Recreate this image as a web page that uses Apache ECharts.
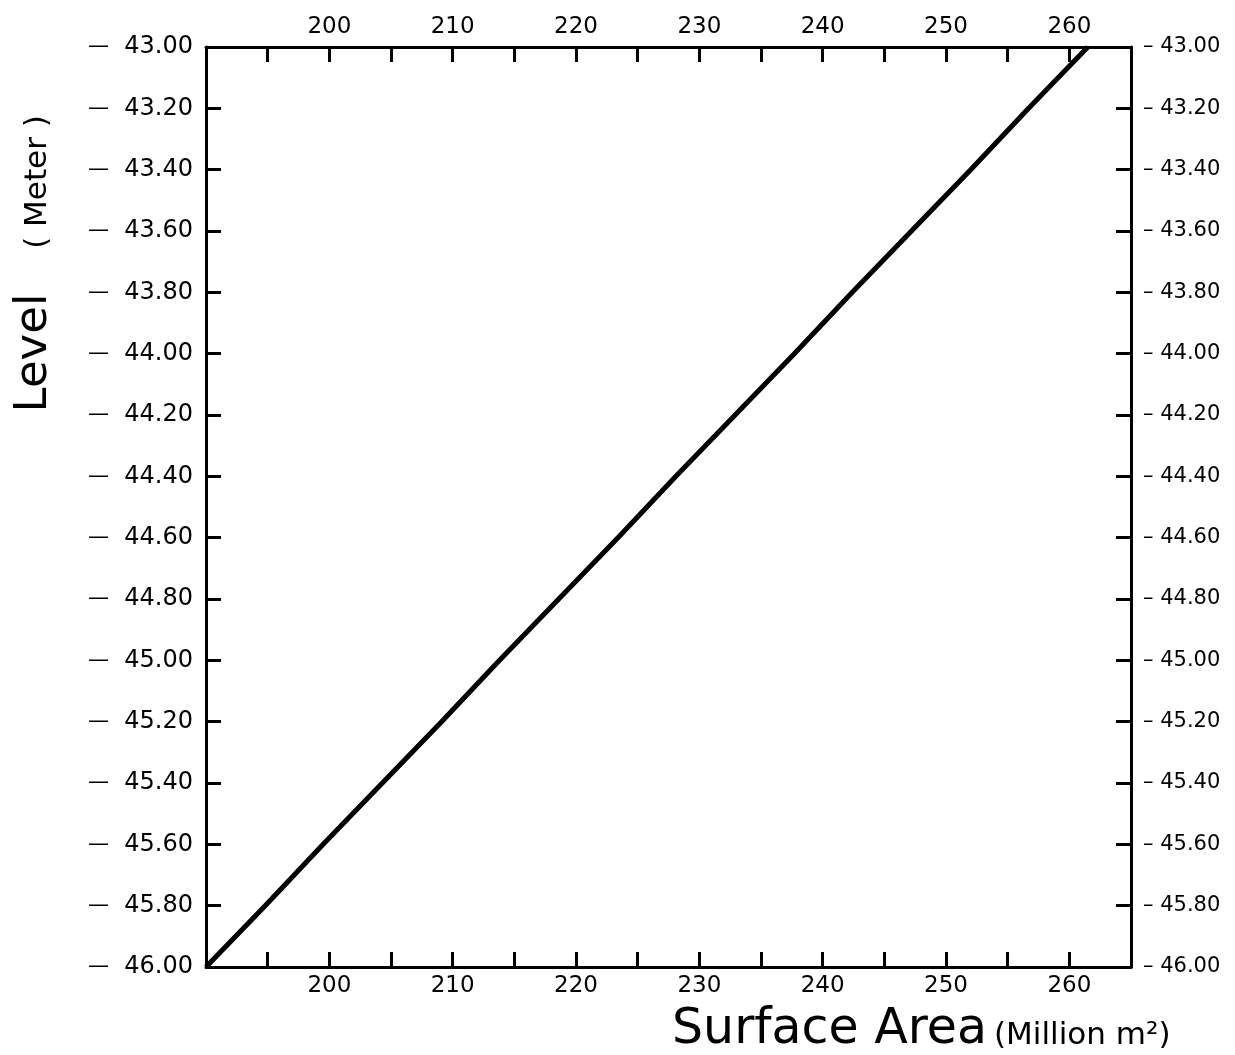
<!DOCTYPE html>
<html>
<head>
<meta charset="utf-8">
<script src="https://cdn.jsdelivr.net/npm/echarts@6/dist/echarts.min.js"></script>
<style>html,body{margin:0;padding:0;background:#fff;}#c{width:1235px;height:1055px;}</style>
</head>
<body>
<div id="c"></div>
<script>
// Data
var levels = [-46.00, -45.80, -45.60, -45.40, -45.20, -45.00, -44.80, -44.60, -44.40, -44.20, -44.00, -43.80, -43.60, -43.40, -43.20, -43.00];
var areas  = [190.0, 194.8, 199.5, 204.3, 209.1, 213.8, 218.6, 223.4, 228.1, 232.9, 237.7, 242.4, 247.2, 252.0, 256.7, 261.5];
var xTickLabels = [200, 210, 220, 230, 240, 250, 260];

var chart = echarts.init(document.getElementById('c'));
var pts = areas.map(function (a, i) { return [a, levels[i]]; });
var FONT = 'DejaVu Sans, Verdana, sans-serif';

function xLab(v) { return xTickLabels.indexOf(Math.round(v)) >= 0 ? String(Math.round(v)) : ''; }

function common() {
  return {
    axisLine: { show: true, onZero: false, lineStyle: { color: '#000', width: 3 } },
    axisTick: { show: true, inside: true, length: 15, lineStyle: { color: '#000', width: 3 } },
    splitLine: { show: false }
  };
}

chart.setOption({
  backgroundColor: '#fff',
  animation: false,
  grid: { left: 206, right: 104, top: 47, bottom: 88 },
  xAxis: [
    Object.assign({ type: 'value', position: 'bottom', min: 190, max: 265, interval: 5,
      axisLabel: { formatter: xLab, color: '#000', fontSize: 23, fontFamily: FONT, margin: 8, showMinLabel: false, showMaxLabel: false } }, common()),
    Object.assign({ type: 'value', position: 'top', min: 190, max: 265, interval: 5,
      axisLabel: { formatter: xLab, color: '#000', fontSize: 23, fontFamily: FONT, margin: 8, showMinLabel: false, showMaxLabel: false } }, common())
  ],
  yAxis: [
    Object.assign({ type: 'value', position: 'left', min: -46, max: -43, interval: 0.2,
      axisLabel: { formatter: function (v) { return '{d|—}  ' + Math.abs(v).toFixed(2); },
        rich: { d: { fontSize: 21, fontFamily: FONT, color: '#000' } },
        color: '#000', fontSize: 24, fontFamily: FONT, margin: 13 } }, common()),
    Object.assign({ type: 'value', position: 'right', min: -46, max: -43, interval: 0.2,
      axisLabel: { formatter: function (v) { return '– ' + Math.abs(v).toFixed(2); }, color: '#000', fontSize: 21, fontFamily: FONT, margin: 12 } }, common())
  ],
  series: [{
    type: 'line',
    xAxisIndex: 0, yAxisIndex: 0,
    data: pts,
    showSymbol: false,
    lineStyle: { color: '#000', width: 5 },
    clip: true
  }],
  graphic: [
    { type: 'text', x: 34, y: 353, rotation: Math.PI / 2,
      style: { text: 'Level', fontSize: 45, fontFamily: FONT, fill: '#000', textAlign: 'center', textVerticalAlign: 'middle' } },
    { type: 'text', x: 38, y: 182, rotation: Math.PI / 2,
      style: { text: '( Meter )', fontSize: 31, fontFamily: FONT, fill: '#000', textAlign: 'center', textVerticalAlign: 'middle' } },
    { type: 'text', x: 672, y: 1030,
      style: { text: 'Surface Area', fontSize: 49, fontFamily: FONT, fill: '#000', textAlign: 'left', textVerticalAlign: 'middle' } },
    { type: 'text', x: 994, y: 1036,
      style: { text: '(Million m²)', fontSize: 31, fontFamily: FONT, fill: '#000', textAlign: 'left', textVerticalAlign: 'middle' } }
  ]
});
</script>
</body>
</html>
